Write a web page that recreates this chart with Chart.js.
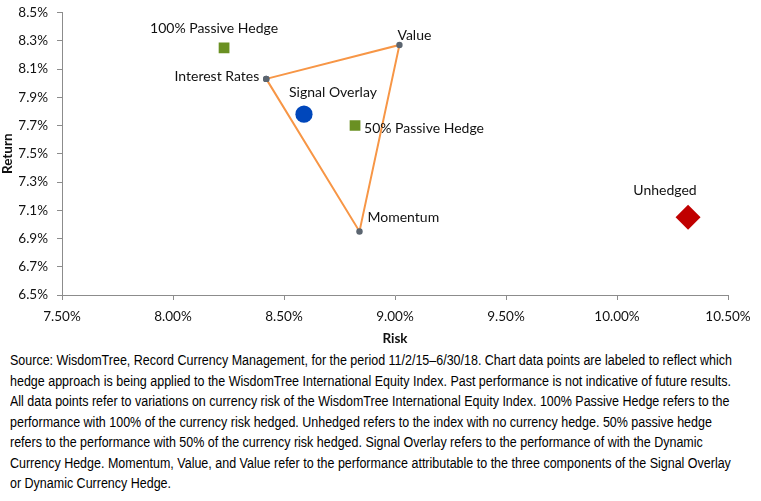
<!DOCTYPE html>
<html>
<head>
<meta charset="utf-8">
<script src="https://cdn.jsdelivr.net/npm/chart.js@4"></script>
<style>
  body { margin: 0; background: #fff; overflow: hidden; }
  .wrap { width: 761px; height: 350px; position: relative; }
  .note {
    font-family: "Liberation Sans", Arial, sans-serif;
    font-size: 14px; line-height: 20.5px; color: #000;
    padding-left: 10px; margin-top: 0px;
  }
  .note span { display: inline-block; white-space: nowrap; transform-origin: 0 50%; }
</style>
</head>
<body>
<div class="wrap"><canvas id="riskChart" width="761" height="350"></canvas></div>
<div class="note">
<span>Source: WisdomTree, Record Currency Management, for the period 11/2/15–6/30/18. Chart data points are labeled to reflect which</span><br>
<span>hedge approach is being applied to the WisdomTree International Equity Index. Past performance is not indicative of future results.</span><br>
<span>All data points refer to variations on currency risk of the WisdomTree International Equity Index. 100% Passive Hedge refers to the</span><br>
<span>performance with 100% of the currency risk hedged. Unhedged refers to the index with no currency hedge. 50% passive hedge</span><br>
<span>refers to the performance with 50% of the currency risk hedged. Signal Overlay refers to the performance of with the Dynamic</span><br>
<span>Currency Hedge. Momentum, Value, and Value refer to the performance attributable to the three components of the Signal Overlay</span><br>
<span>or Dynamic Currency Hedge.</span>
</div>
<script>
// triangle: Interest Rates -> Value -> Momentum -> back
const componentNames = ["Interest Rates", "Value", "Momentum"];
const componentRisk = [8.42, 9.02, 8.84];
const componentReturn = [8.03, 8.27, 6.95];

const hedgeNames = ["100% Passive Hedge", "Signal Overlay", "50% Passive Hedge", "Unhedged"];
const hedgeRisk = [8.23, 8.59, 8.82, 10.32];
const hedgeReturn = [8.25, 7.78, 7.70, 7.05];

const xTicks = [7.5, 8.0, 8.5, 9.0, 9.5, 10.0, 10.5];
const yTicks = [6.5, 6.7, 6.9, 7.1, 7.3, 7.5, 7.7, 7.9, 8.1, 8.3, 8.5];

const FONT = "Lato, 'Open Sans', sans-serif";

// squeeze the source note to the narrow width of the original
const spans = document.querySelectorAll(".note span");
const squeeze = 722 / spans[0].getBoundingClientRect().width;
spans.forEach(s => { s.style.transform = "scaleX(" + squeeze + ")"; });

const triangle = componentRisk.map((r, i) => ({ x: r, y: componentReturn[i] }));
triangle.push(triangle[0]);

function hedgePoint(i) { return [{ x: hedgeRisk[i], y: hedgeReturn[i] }]; }

// label placement per point: [dataset, index, text, dx, dy, align]
const labelSpots = [
  [1, 0, hedgeNames[0], -10, -19, "center"],
  [2, 0, hedgeNames[1], 29, -22, "center"],
  [3, 0, hedgeNames[2], 9, 3, "left"],
  [4, 0, hedgeNames[3], -23, -27, "center"],
  [0, 0, componentNames[0], -7, -2, "right"],
  [0, 1, componentNames[1], -2, -10, "left"],
  [0, 2, componentNames[2], 8, -14, "left"]
];

const pointLabels = {
  id: "pointLabels",
  afterDatasetsDraw(chart) {
    const ctx = chart.ctx;
    ctx.save();
    ctx.font = "14px " + FONT;
    ctx.fillStyle = "#111";
    ctx.textBaseline = "middle";
    labelSpots.forEach(([ds, idx, text, dx, dy, align]) => {
      const el = chart.getDatasetMeta(ds).data[idx];
      ctx.textAlign = align;
      ctx.fillText(text, el.x + dx, el.y + dy);
    });
    ctx.restore();
  }
};

new Chart(document.getElementById("riskChart").getContext("2d"), {
  type: "scatter",
  data: {
    datasets: [
      {
        data: triangle, showLine: true,
        borderColor: "#F79646", borderWidth: 2,
        pointRadius: 3.2, pointBackgroundColor: "#5B6570", pointBorderWidth: 0
      },
      { data: hedgePoint(0), pointStyle: "rect", pointRadius: 7.6, pointBackgroundColor: "#6A9022", pointBorderWidth: 0 },
      { data: hedgePoint(1), pointStyle: "circle", pointRadius: 8.6, pointBackgroundColor: "#0047BB", pointBorderWidth: 0 },
      { data: hedgePoint(2), pointStyle: "rect", pointRadius: 7.6, pointBackgroundColor: "#6A9022", pointBorderWidth: 0 },
      { data: hedgePoint(3), pointStyle: "rectRot", pointRadius: 12.5, pointBackgroundColor: "#C00000", pointBorderWidth: 0 }
    ]
  },
  options: {
    responsive: false,
    animation: false,
    events: [],
    layout: { padding: { top: 6, right: 33, left: 0, bottom: 0 } },
    plugins: { legend: { display: false }, tooltip: { enabled: false } },
    scales: {
      x: {
        type: "linear", min: 7.5, max: 10.5,
        afterBuildTicks: s => { s.ticks = xTicks.map(v => ({ value: v })); },
        afterFit: s => { s.height = 55; },
        ticks: {
          color: "#111", font: { family: FONT, size: 13.5 }, padding: 9,
          callback: v => v.toFixed(2) + "%"
        },
        grid: { drawOnChartArea: false, drawTicks: true, tickLength: 5, color: "#8C8C8C" },
        border: { color: "#8C8C8C", width: 1 },
        title: { display: true, text: "Risk", color: "#111", font: { family: FONT, size: 13.5, weight: "bold" }, padding: { top: 0, bottom: 3 } }
      },
      y: {
        type: "linear", min: 6.5, max: 8.5,
        afterBuildTicks: s => { s.ticks = yTicks.map(v => ({ value: v })); },
        afterFit: s => { s.width = 62; s.paddingTop = 4; s.paddingBottom = 4; },
        ticks: {
          color: "#111", font: { family: FONT, size: 13.5 }, padding: 9,
          callback: v => v.toFixed(1) + "%"
        },
        grid: { drawOnChartArea: false, drawTicks: true, tickLength: 5, color: "#8C8C8C" },
        border: { color: "#8C8C8C", width: 1 },
        title: { display: true, text: "Return", color: "#111", font: { family: FONT, size: 13.5, weight: "bold" }, padding: 0 }
      }
    }
  },
  plugins: [pointLabels]
});
</script>
</body>
</html>
